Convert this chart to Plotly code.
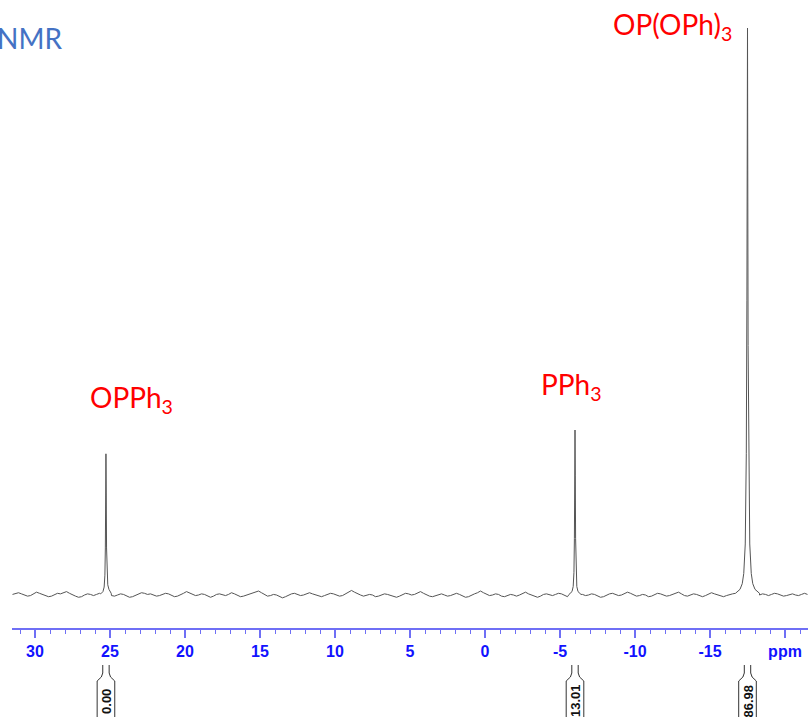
import numpy as np
import plotly.graph_objects as go

# ---------------- data ----------------
# tick labels of the ppm axis
tick_vals = [30, 25, 20, 15, 10, 5, 0, -5, -10, -15, -20]
tick_text = ["30", "25", "20", "15", "10", "5", "0", "-5", "-10", "-15", "ppm"]

# peaks: name, centre (ppm), integral label
peak_names = ["OPPh<sub>3</sub>", "PPh<sub>3</sub>", "OP(OPh)<sub>3</sub>"]
peak_ppm = [25.27, -6.0, -17.5]
peak_integrals = ["0.00", "13.01", "86.98"]

# peak line shapes: offsets from centre (ppm) and intensities
opph3_off = [0.35, 0.2, 0.12, 0.07, 0.04, 0.02, 0.0, -0.02, -0.04, -0.07, -0.12, -0.2, -0.35]
opph3_val = [0.2, 0.6, 1.4, 3.5, 8.3, 18.0, 24.9, 18.0, 8.3, 3.5, 1.8, 1.0, 0.3]
pph3_off = [0.4, 0.2, 0.12, 0.07, 0.04, 0.02, 0.0, -0.02, -0.04, -0.07, -0.12, -0.2, -0.4]
pph3_val = [0.1, 0.6, 1.5, 4.0, 10.0, 21.0, 29.1, 21.0, 10.0, 4.0, 1.5, 0.6, 0.1]
opoph3_off = [0.8, 0.5, 0.35, 0.25, 0.15, 0.08, 0.04, 0.0, -0.04, -0.08, -0.15, -0.25, -0.35, -0.5, -0.8]
opoph3_val = [0.3, 1.0, 2.0, 3.8, 9.0, 25.0, 52.0, 100.0, 44.0, 25.0, 9.0, 3.8, 2.0, 1.0, 0.3]

# baseline noise, every 0.2 ppm starting at 31.5 ppm
baseline_start = 31.5
baseline_step = 0.2
baseline_noise = [
    0.1, 0.3, 0.4, 0.2, 0.0, -0.2, -0.1, 0.2, 0.5, 0.3, 0.1, -0.1, -0.3, -0.2, 0.1, 0.3, 0.2, 0.4, 0.6, 0.3,
    0.0, -0.2, -0.4, -0.3, 0.0, 0.2, 0.1, -0.1, 0.1, 0.3, 0.5, 0.4, 0.1, -0.1, -0.2, 0.0, 0.2, 0.1, -0.2, -0.4,
    -0.3, -0.1, 0.2, 0.4, 0.3, 0.1, 0.2, 0.0, -0.2, -0.1, 0.1, 0.3, 0.2, -0.1, -0.3, -0.2, 0.0, 0.3, 0.6, 0.4,
    0.1, -0.1, 0.0, 0.2, 0.1, -0.2, -0.4, -0.2, 0.1, 0.2, 0.0, -0.1, 0.1, 0.4, 0.2, -0.1, -0.3, -0.2, 0.0, 0.1,
    0.3, 0.5, 0.7, 0.4, 0.1, -0.2, -0.1, 0.1, 0.0, -0.3, -0.5, -0.3, 0.0, 0.2, 0.3, 0.1, -0.1, 0.0, 0.2, 0.4,
    0.2, 0.0, -0.2, -0.3, -0.1, 0.1, 0.3, 0.2, 0.0, -0.2, -0.1, 0.2, 0.4, 0.8, 0.5, 0.2, 0.0, -0.2, -0.1, 0.1,
    0.0, -0.3, -0.2, 0.0, 0.2, 0.1, -0.1, -0.3, -0.4, -0.2, 0.1, 0.3, 0.2, 0.0, 0.1, 0.3, 0.6, 0.3, 0.0, -0.2,
    -0.3, -0.1, 0.1, 0.2, 0.0, -0.2, -0.1, 0.1, 0.3, 0.1, -0.1, -0.4, -0.3, 0.0, 0.2, 0.4, 0.7, 0.4, 0.1, -0.1,
    0.0, 0.2, 0.1, -0.2, -0.3, -0.1, 0.1, 0.0, -0.2, 0.0, 0.3, 0.5, 0.2, 0.0, -0.3, -0.4, -0.2, 0.1, 0.2, 0.0,
    -0.1, 0.1, 0.3, 0.2, -0.1, -0.3, -0.2, 0.1, 0.4, 0.3, 0.1, -0.1, 0.0, 0.2, 0.1, -0.2, -0.4, -0.3, 0.0, 0.2,
    0.3, 0.1, -0.1, 0.0, 0.2, 0.5, 0.3, 0.0, -0.2, -0.1, 0.1, 0.0, -0.3, -0.2, 0.1, 0.3, 0.2, 0.0, -0.2, -0.1,
    0.1, 0.3, 0.5, 0.2, -0.1, -0.2, 0.0, 0.2, 0.1, -0.1, -0.3, -0.1, 0.2, 0.4, 0.2, 0.0, -0.2, -0.3, -0.1, 0.1,
    0.2, 0.0, -0.2, 0.0, 0.3, 0.4, 0.1, -0.1, -0.2, 0.0, 0.2, 0.1, -0.1, 0.1, 0.3, 0.2, 0.0, -0.2, -0.1, 0.1,
    0.2, 0.0, -0.1, 0.1, 0.3, 0.1,
]

# ---------------- assemble spectrum ----------------
base_ppm = [baseline_start - baseline_step * i for i in range(len(baseline_noise))]
shapes_def = [(peak_ppm[0], opph3_off, opph3_val),
              (peak_ppm[1], pph3_off, pph3_val),
              (peak_ppm[2], opoph3_off, opoph3_val)]

pts = []
for p, v in zip(base_ppm, baseline_noise):
    inside = any(abs(p - c) <= max(abs(o) for o in offs) for c, offs, _ in shapes_def)
    if not inside:
        pts.append((p, v))
for c, offs, vals in shapes_def:
    for o, v in zip(offs, vals):
        pts.append((c + o, v))
pts.sort(key=lambda t: -t[0])
spec_x = [p[0] for p in pts]
spec_y = [p[1] for p in pts]

# ---------------- layout geometry ----------------
W, H = 811, 717
ML, MR, MT, MB = 12, 3, 0, 89
PLOT_W = W - ML - MR
PX_PER_PPM = 15.0
X_LEFT = 30 + (35 - ML) / PX_PER_PPM
X_RIGHT = X_LEFT - PLOT_W / PX_PER_PPM
PLOT_H = H - MT - MB
PX_PER_UNIT = 5.67
Y_MIN = -(PLOT_H - 595) / PX_PER_UNIT
Y_MAX = Y_MIN + PLOT_H / PX_PER_UNIT


def ypaper(py):
    return (PLOT_H - py) / PLOT_H


def xpaper(px):
    return (px - ML) / PLOT_W


def ppm_of(px):
    return X_LEFT - (px - ML) / PX_PER_PPM


def inten_of(py):
    return (595 - py) / PX_PER_UNIT


fig = go.Figure()
fig.add_trace(go.Scatter(x=spec_x, y=spec_y, mode="lines",
                         line=dict(color="#555555", width=1),
                         hoverinfo="skip", showlegend=False))

axis_blue = "#1212ff"
fig.update_layout(
    width=W, height=H,
    margin=dict(l=ML, r=MR, t=MT, b=MB, pad=0),
    paper_bgcolor="white", plot_bgcolor="white",
    showlegend=False,
    xaxis=dict(
        range=[X_LEFT, X_RIGHT],
        showgrid=False, zeroline=False,
        showline=True, linecolor="#6f6ff5", linewidth=2,
        ticks="outside", ticklen=8, tickwidth=1.5, tickcolor="#6f6ff5",
        tickmode="array", tickvals=tick_vals, ticktext=tick_text,
        tickfont=dict(family="Liberation Sans, Arial", size=16, color=axis_blue,
                      weight="bold"),
        minor=dict(tickmode="linear", tick0=0, dtick=1, ticks="outside",
                   ticklen=4, tickwidth=1, tickcolor="#6f6ff5", showgrid=False),
    ),
    yaxis=dict(range=[Y_MIN, Y_MAX], visible=False),
)

label_font = dict(family="Lato, Open Sans, sans-serif", size=28, color="#ff0000")
label_pos_px = [(131, 399), (571, 386), (672, 26)]
for name, (px, py) in zip(peak_names, label_pos_px):
    fig.add_annotation(x=ppm_of(px), y=inten_of(py), xref="x", yref="y",
                       text=name, showarrow=False, font=label_font,
                       xanchor="center", yanchor="middle")

fig.add_annotation(x=xpaper(-5), y=ypaper(38), xref="paper", yref="paper",
                   text="NMR", showarrow=False,
                   font=dict(family="Lato, Open Sans, sans-serif", size=28, color="#4472C4"),
                   xanchor="left", yanchor="middle")

# integral brackets below the axis
dx_stem = 3.2 / PX_PER_PPM
dx_box = 8.8 / PX_PER_PPM
y_top, y_funnel, y_box, y_bot = ypaper(665), ypaper(673), ypaper(681), ypaper(725)
for c, lab in zip(peak_ppm, peak_integrals):
    path = (f"M {c - dx_stem},{y_top} L {c - dx_stem},{y_funnel} "
            f"Q {c - dx_stem},{(y_funnel + y_box) / 2} {c - dx_box},{y_box} "
            f"L {c - dx_box},{y_bot} M {c + dx_stem},{y_top} L {c + dx_stem},{y_funnel} "
            f"Q {c + dx_stem},{(y_funnel + y_box) / 2} {c + dx_box},{y_box} "
            f"L {c + dx_box},{y_bot}")
    fig.add_shape(type="path", path=path, xref="x", yref="paper",
                  line=dict(color="#333333", width=1))
    fig.add_annotation(x=c, y=ypaper(701), xref="x", yref="paper",
                       text=f"<b>{lab}</b>", showarrow=False, textangle=-90,
                       font=dict(family="Liberation Sans, Arial", size=13, color="#111111"),
                       xanchor="center", yanchor="middle")

fig.write_html("out.html")
